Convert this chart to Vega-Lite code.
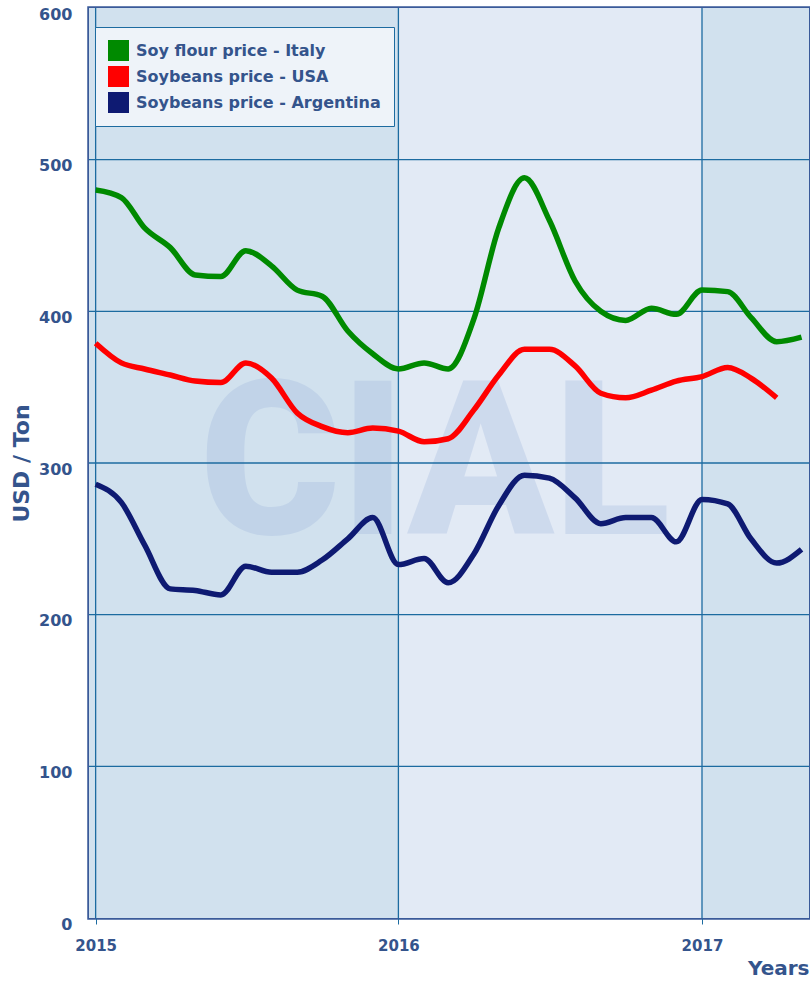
{
  "$schema": "https://vega.github.io/schema/vega-lite/v6.json",
  "width": 720,
  "height": 910,
  "autosize": {"type": "none"},
  "padding": {"left": 89, "top": 8, "right": 1, "bottom": 66},
  "background": "#ffffff",
  "config": {"view": {"stroke": "#3a5a99", "strokeWidth": 3.5}, "font": "DejaVu Sans"},
  "datasets": {
    "bands": [
      {"date": "2014-12-24", "end": "2016-01-01", "shade": "dark"},
      {"date": "2016-01-01", "end": "2017-01-01", "shade": "light"},
      {"date": "2017-01-01", "end": "2017-05-10", "shade": "dark"}
    ],
    "hgrid": [{"v": 100}, {"v": 200}, {"v": 300}, {"v": 400}, {"v": 500}],
    "vgrid": [{"date": "2015-01-01"}, {"date": "2016-01-01"}, {"date": "2017-01-01"}],
    "prices": [
      {"date": "2015-01-01", "series": "Soy flour price - Italy", "value": 480},
      {"date": "2015-02-01", "series": "Soy flour price - Italy", "value": 475},
      {"date": "2015-03-01", "series": "Soy flour price - Italy", "value": 455},
      {"date": "2015-04-01", "series": "Soy flour price - Italy", "value": 442},
      {"date": "2015-05-01", "series": "Soy flour price - Italy", "value": 424},
      {"date": "2015-06-01", "series": "Soy flour price - Italy", "value": 423},
      {"date": "2015-07-01", "series": "Soy flour price - Italy", "value": 440},
      {"date": "2015-08-01", "series": "Soy flour price - Italy", "value": 430},
      {"date": "2015-09-01", "series": "Soy flour price - Italy", "value": 414},
      {"date": "2015-10-01", "series": "Soy flour price - Italy", "value": 410},
      {"date": "2015-11-01", "series": "Soy flour price - Italy", "value": 387},
      {"date": "2015-12-01", "series": "Soy flour price - Italy", "value": 372},
      {"date": "2016-01-01", "series": "Soy flour price - Italy", "value": 362},
      {"date": "2016-02-01", "series": "Soy flour price - Italy", "value": 366},
      {"date": "2016-03-01", "series": "Soy flour price - Italy", "value": 362},
      {"date": "2016-04-01", "series": "Soy flour price - Italy", "value": 395},
      {"date": "2016-05-01", "series": "Soy flour price - Italy", "value": 455},
      {"date": "2016-06-01", "series": "Soy flour price - Italy", "value": 488},
      {"date": "2016-07-01", "series": "Soy flour price - Italy", "value": 460},
      {"date": "2016-08-01", "series": "Soy flour price - Italy", "value": 420},
      {"date": "2016-09-01", "series": "Soy flour price - Italy", "value": 400},
      {"date": "2016-10-01", "series": "Soy flour price - Italy", "value": 394},
      {"date": "2016-11-01", "series": "Soy flour price - Italy", "value": 402},
      {"date": "2016-12-01", "series": "Soy flour price - Italy", "value": 398},
      {"date": "2017-01-01", "series": "Soy flour price - Italy", "value": 414},
      {"date": "2017-02-01", "series": "Soy flour price - Italy", "value": 413},
      {"date": "2017-03-01", "series": "Soy flour price - Italy", "value": 396},
      {"date": "2017-04-01", "series": "Soy flour price - Italy", "value": 380},
      {"date": "2017-05-01", "series": "Soy flour price - Italy", "value": 383},
      {"date": "2015-01-01", "series": "Soybeans price - USA", "value": 379},
      {"date": "2015-02-01", "series": "Soybeans price - USA", "value": 366},
      {"date": "2015-03-01", "series": "Soybeans price - USA", "value": 362},
      {"date": "2015-04-01", "series": "Soybeans price - USA", "value": 358},
      {"date": "2015-05-01", "series": "Soybeans price - USA", "value": 354},
      {"date": "2015-06-01", "series": "Soybeans price - USA", "value": 353},
      {"date": "2015-07-01", "series": "Soybeans price - USA", "value": 366},
      {"date": "2015-08-01", "series": "Soybeans price - USA", "value": 356},
      {"date": "2015-09-01", "series": "Soybeans price - USA", "value": 333},
      {"date": "2015-10-01", "series": "Soybeans price - USA", "value": 324},
      {"date": "2015-11-01", "series": "Soybeans price - USA", "value": 320},
      {"date": "2015-12-01", "series": "Soybeans price - USA", "value": 323},
      {"date": "2016-01-01", "series": "Soybeans price - USA", "value": 321},
      {"date": "2016-02-01", "series": "Soybeans price - USA", "value": 314},
      {"date": "2016-03-01", "series": "Soybeans price - USA", "value": 316},
      {"date": "2016-04-01", "series": "Soybeans price - USA", "value": 335},
      {"date": "2016-05-01", "series": "Soybeans price - USA", "value": 358},
      {"date": "2016-06-01", "series": "Soybeans price - USA", "value": 375},
      {"date": "2016-07-01", "series": "Soybeans price - USA", "value": 375},
      {"date": "2016-08-01", "series": "Soybeans price - USA", "value": 364},
      {"date": "2016-09-01", "series": "Soybeans price - USA", "value": 346},
      {"date": "2016-10-01", "series": "Soybeans price - USA", "value": 343},
      {"date": "2016-11-01", "series": "Soybeans price - USA", "value": 348},
      {"date": "2016-12-01", "series": "Soybeans price - USA", "value": 354},
      {"date": "2017-01-01", "series": "Soybeans price - USA", "value": 357},
      {"date": "2017-02-01", "series": "Soybeans price - USA", "value": 363},
      {"date": "2017-03-01", "series": "Soybeans price - USA", "value": 356},
      {"date": "2017-04-01", "series": "Soybeans price - USA", "value": 343},
      {"date": "2015-01-01", "series": "Soybeans price - Argentina", "value": 286},
      {"date": "2015-02-01", "series": "Soybeans price - Argentina", "value": 274},
      {"date": "2015-03-01", "series": "Soybeans price - Argentina", "value": 246},
      {"date": "2015-04-01", "series": "Soybeans price - Argentina", "value": 217},
      {"date": "2015-05-01", "series": "Soybeans price - Argentina", "value": 216},
      {"date": "2015-06-01", "series": "Soybeans price - Argentina", "value": 213},
      {"date": "2015-07-01", "series": "Soybeans price - Argentina", "value": 232},
      {"date": "2015-08-01", "series": "Soybeans price - Argentina", "value": 228},
      {"date": "2015-09-01", "series": "Soybeans price - Argentina", "value": 228},
      {"date": "2015-10-01", "series": "Soybeans price - Argentina", "value": 236},
      {"date": "2015-11-01", "series": "Soybeans price - Argentina", "value": 250},
      {"date": "2015-12-01", "series": "Soybeans price - Argentina", "value": 264},
      {"date": "2016-01-01", "series": "Soybeans price - Argentina", "value": 233},
      {"date": "2016-02-01", "series": "Soybeans price - Argentina", "value": 237},
      {"date": "2016-03-01", "series": "Soybeans price - Argentina", "value": 221},
      {"date": "2016-04-01", "series": "Soybeans price - Argentina", "value": 240},
      {"date": "2016-05-01", "series": "Soybeans price - Argentina", "value": 272},
      {"date": "2016-06-01", "series": "Soybeans price - Argentina", "value": 292},
      {"date": "2016-07-01", "series": "Soybeans price - Argentina", "value": 290},
      {"date": "2016-08-01", "series": "Soybeans price - Argentina", "value": 277},
      {"date": "2016-09-01", "series": "Soybeans price - Argentina", "value": 260},
      {"date": "2016-10-01", "series": "Soybeans price - Argentina", "value": 264},
      {"date": "2016-11-01", "series": "Soybeans price - Argentina", "value": 264},
      {"date": "2016-12-01", "series": "Soybeans price - Argentina", "value": 248},
      {"date": "2017-01-01", "series": "Soybeans price - Argentina", "value": 276},
      {"date": "2017-02-01", "series": "Soybeans price - Argentina", "value": 273},
      {"date": "2017-03-01", "series": "Soybeans price - Argentina", "value": 250},
      {"date": "2017-04-01", "series": "Soybeans price - Argentina", "value": 234},
      {"date": "2017-05-01", "series": "Soybeans price - Argentina", "value": 243}
    ]
  },
  "layer": [
    {
      "data": {"name": "bands"},
      "mark": {"type": "rect"},
      "encoding": {
        "x": {"field": "date", "type": "temporal"},
        "x2": {"field": "end"},
        "y": {"datum": 0, "type": "quantitative"},
        "y2": {"datum": 600},
        "fill": {"condition": {"test": "datum.shade === 'light'", "value": "#e2eaf5"}, "value": "#d1e1ee"}
      }
    },
    {
      "data": {"values": [{"label": "CIAL"}]},
      "mark": {"type": "text", "font": "Roboto", "fontWeight": 900, "fontSize": 215, "align": "center", "baseline": "middle", "color": "#8fa9d8", "opacity": 0.24},
      "encoding": {
        "text": {"field": "label", "type": "nominal"},
        "x": {"datum": {"year": 2016, "month": 2, "date": 14, "utc": true}, "type": "temporal"},
        "y": {"datum": 296, "type": "quantitative"}
      }
    },
    {
      "data": {"name": "hgrid"},
      "mark": {"type": "rule", "color": "#1c6ba0", "strokeWidth": 1.3},
      "encoding": {"y": {"field": "v", "type": "quantitative"}}
    },
    {
      "data": {"name": "vgrid"},
      "mark": {"type": "rule", "color": "#1c6ba0", "strokeWidth": 1.3},
      "encoding": {"x": {"field": "date", "type": "temporal"}}
    },
    {
      "data": {"name": "prices"},
      "mark": {"type": "line", "strokeWidth": 5.5, "interpolate": "monotone", "strokeCap": "butt"},
      "encoding": {
        "x": {
          "field": "date", "type": "temporal",
          "scale": {"type": "utc", "domain": [{"year": 2014, "month": 12, "date": 24, "utc": true}, {"year": 2017, "month": 5, "date": 10, "utc": true}]},
          "axis": {
            "title": "Years",
            "values": [{"year": 2015, "month": 1, "date": 1, "utc": true}, {"year": 2016, "month": 1, "date": 1, "utc": true}, {"year": 2017, "month": 1, "date": 1, "utc": true}],
            "labelExpr": "utcFormat(datum.value, '%Y')",
            "domain": false, "grid": false,
            "ticks": true, "tickSize": 6, "tickColor": "#1c6ba0", "tickWidth": 1,
            "labelFont": "DejaVu Sans", "labelFontWeight": "bold", "labelFontSize": 15, "labelColor": "#34548c",
            "labelPadding": 14, "labelFlush": false,
            "titleFont": "DejaVu Sans", "titleFontWeight": "bold", "titleFontSize": 20, "titleColor": "#34548c",
            "titleAnchor": "end", "titlePadding": 5
          }
        },
        "y": {
          "field": "value", "type": "quantitative",
          "scale": {"domain": [0, 600], "nice": false},
          "axis": {
            "title": "USD / Ton",
            "values": [0, 100, 200, 300, 400, 500, 600],
            "domain": false, "grid": false, "ticks": false,
            "labelFont": "DejaVu Sans", "labelFontWeight": "bold", "labelFontSize": 16, "labelColor": "#34548c",
            "labelPadding": 17, "labelOffset": 6,
            "titleFont": "DejaVu Sans", "titleFontWeight": "bold", "titleFontSize": 22, "titleColor": "#34548c",
            "titlePadding": 5
          }
        },
        "color": {
          "field": "series", "type": "nominal",
          "scale": {"domain": ["Soy flour price - Italy", "Soybeans price - USA", "Soybeans price - Argentina"], "range": ["#008a00", "#ff0000", "#0e1a72"]},
          "legend": {
            "orient": "none", "legendX": 6, "legendY": 19, "title": null,
            "fillColor": "#eef3f9", "strokeColor": "#1c6ba0", "padding": 13,
            "symbolType": "square", "symbolSize": 441, "symbolStrokeWidth": 0,
            "labelFont": "DejaVu Sans", "labelFontSize": 16, "labelFontWeight": "bold", "labelColor": "#34548c",
            "labelOffset": 7, "rowPadding": 5, "labelLimit": 400,
            "encode": {"symbols": {"update": {"fill": {"scale": "color", "field": "value"}, "opacity": {"value": 1}}}}
          }
        }
      }
    }
  ]
}
